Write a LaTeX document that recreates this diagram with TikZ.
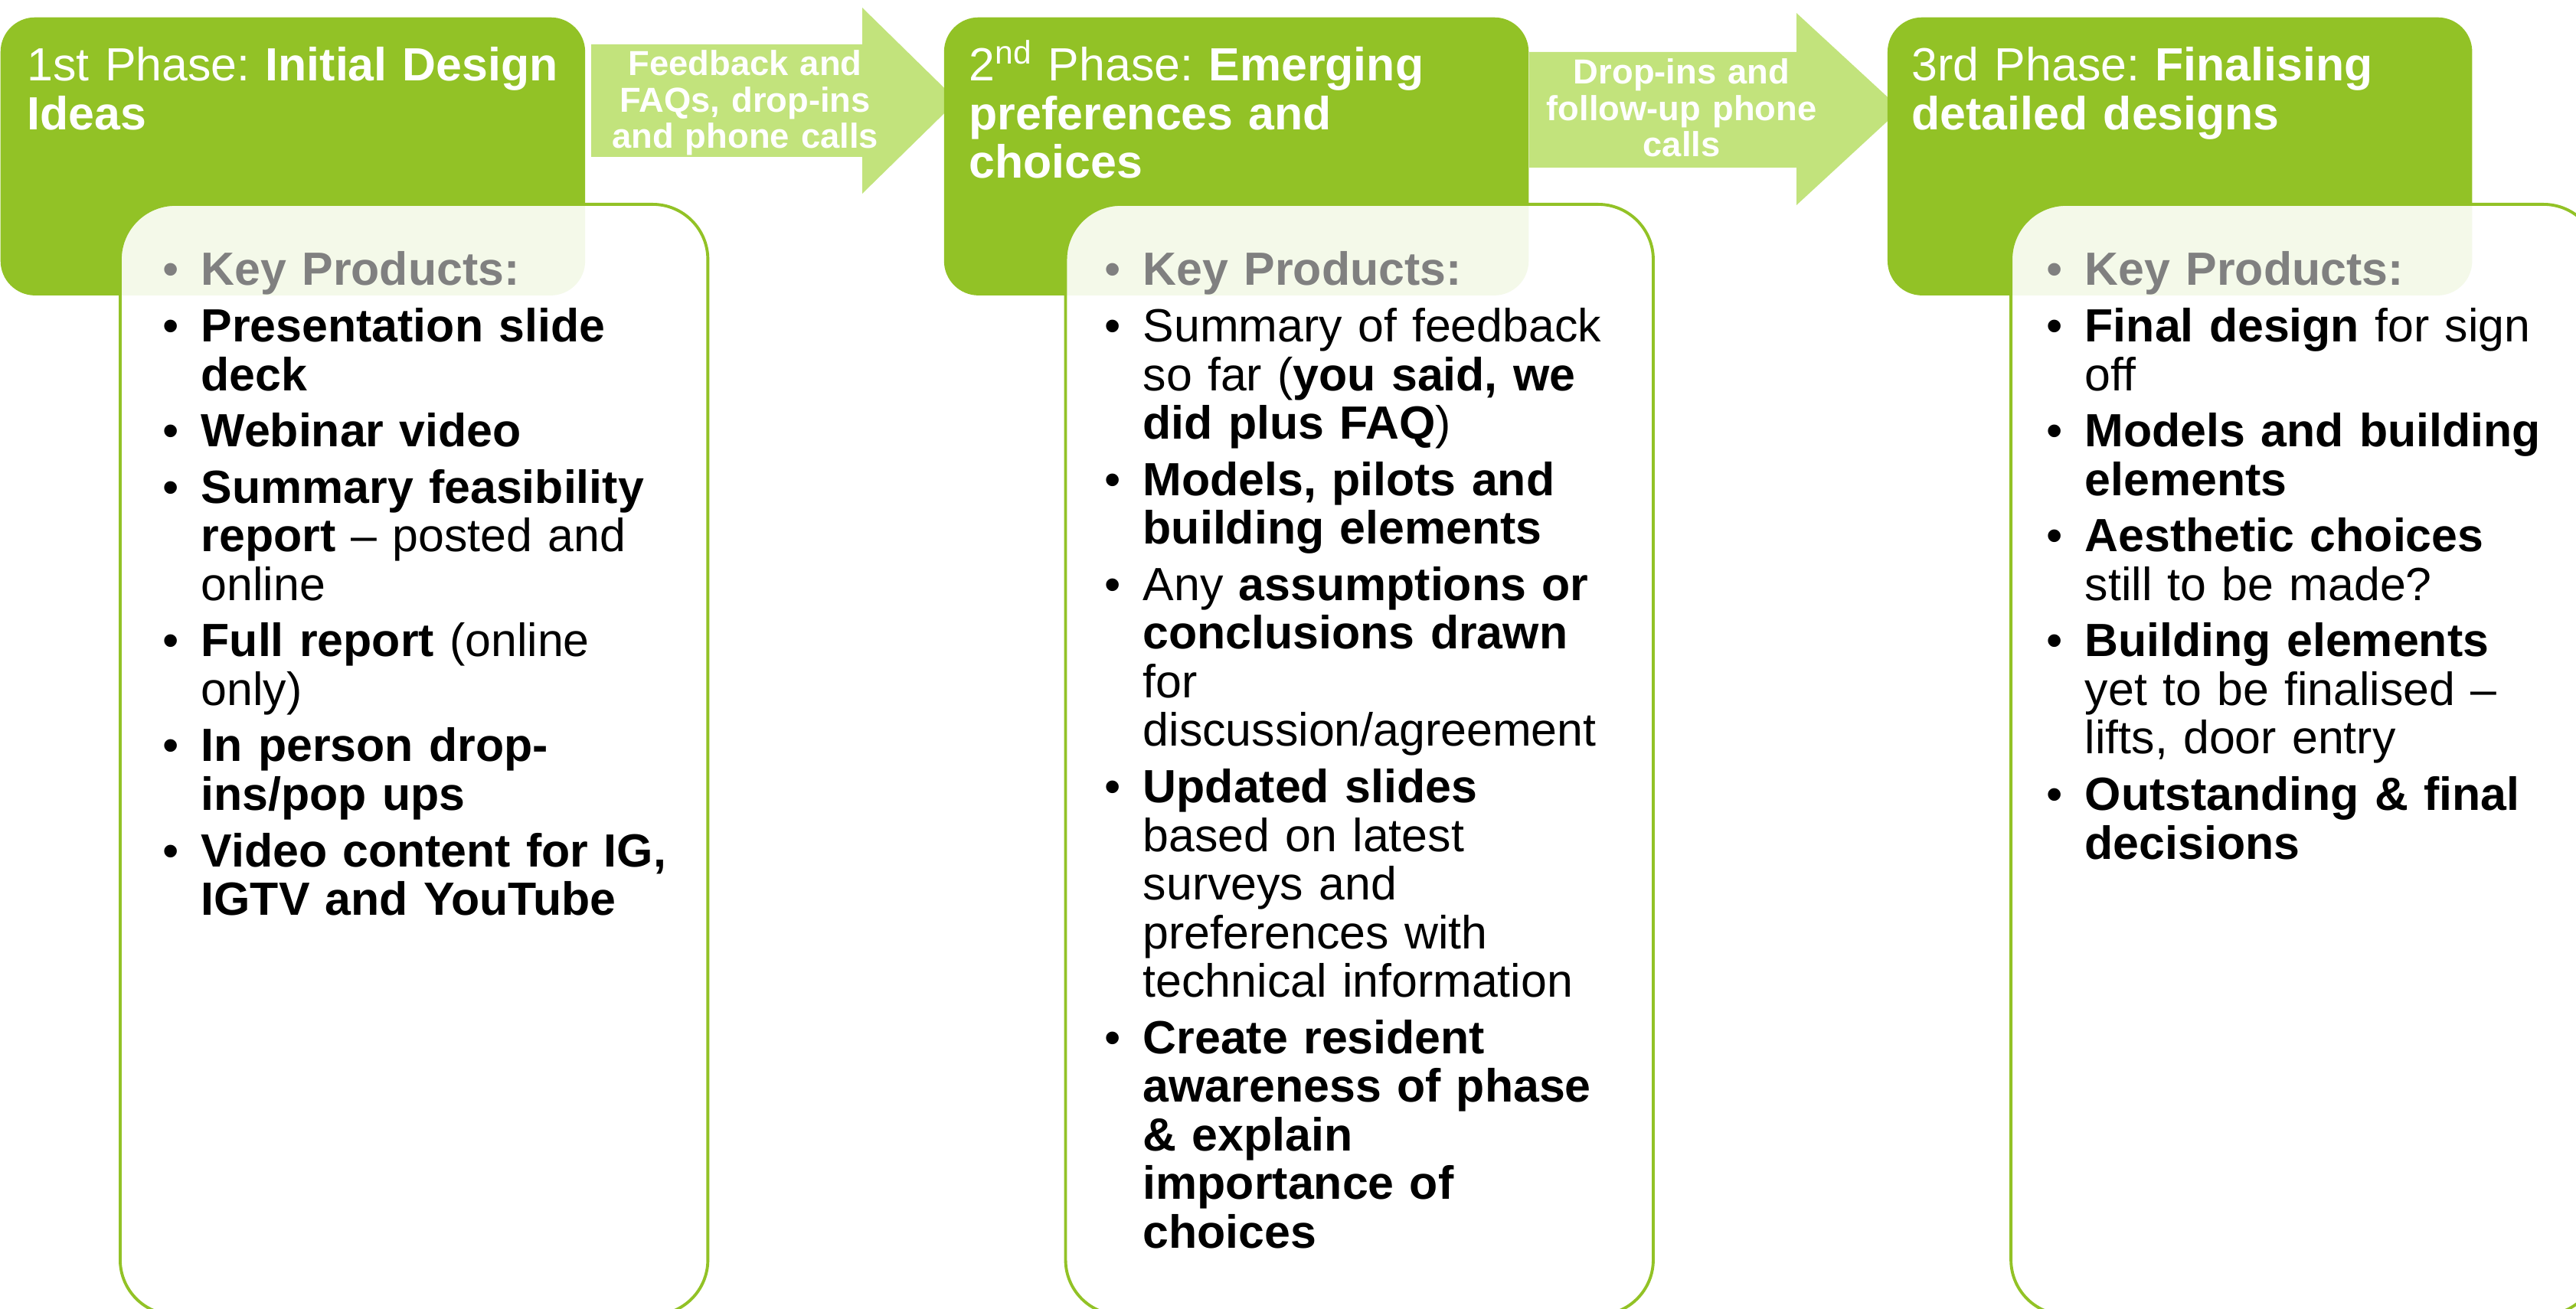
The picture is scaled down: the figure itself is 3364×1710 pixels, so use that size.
\documentclass[tikz,border=0pt]{standalone}
\usepackage{fontspec}
\setmainfont{Liberation Sans}
\usetikzlibrary{positioning}
\definecolor{colPhase}{RGB}{146,194,38}
\definecolor{colFlow}{RGB}{194,227,124}
\definecolor{colKey}{RGB}{128,128,128}

\frenchspacing

% fonts for the three kinds of text
\newcommand{\titlefont}{\fontsize{17.3pt}{17.93pt}\selectfont}
\newcommand{\kpfont}{\fontsize{17.3pt}{18.07pt}\selectfont}
\newcommand{\flowfont}{\fontsize{12.9pt}{13.37pt}\selectfont\bfseries}

% bullet list lines (\\ keeps the hanging indent)
\newcommand{\kphead}{\setlength{\parskip}{0.1cm}\noindent
  {\color{colKey}\makebox[0.5cm][l]{\textbullet}\textbf{Key Products:}}\par}
\newcommand{\kpitem}[1]{\hangindent=0.5cm\hangafter=1\noindent
  \makebox[0.5cm][l]{\textbullet}{\let\\\newline#1}\par}

\begin{document}
\begin{tikzpicture}[
  x=0.01cm, y=-0.01cm,
  phase/.style={rectangle, rounded corners=0.45cm, fill=colPhase, inner sep=0pt,
                minimum width=7.63cm, minimum height=3.63cm, anchor=north west},
  products/.style={rectangle, rounded corners=0.72cm, draw=colPhase, line width=1.1pt,
                   fill=white, fill opacity=0.9, inner sep=0pt,
                   minimum width=7.67cm, minimum height=14.5cm, anchor=north west},
  ptitle/.style={anchor=base west, inner sep=0pt, text width=9cm, align=left,
                 text=white, font=\titlefont},
  ptext/.style={anchor=base west, inner sep=0pt, text width=7cm, align=left,
                font=\kpfont},
  flow/.style={fill=colFlow},
  flowtext/.style={anchor=base, inner sep=0pt, text width=4cm, align=center,
                   text=white, font=\flowfont},
]

\useasboundingbox (0,0) rectangle (3364,1710);
\clip (0,0) rectangle (3364,1710);

% Block arrows between the phases (tips run under the next box)
\fill[flow] (772,58) -- (1126,58) -- (1126,10) -- (1250,131.5) -- (1126,253)
  -- (1126,205) -- (772,205) -- cycle;
\fill[flow] (1997,68) -- (2346,68) -- (2346,17) -- (2482,142.5) -- (2346,268)
  -- (2346,219) -- (1997,219) -- cycle;

% Phase headers
\node[phase] (phase1) at (0,22) {};
\node[phase, right=4.67cm of phase1] (phase2) {};
\node[phase, right=4.67cm of phase2] (phase3) {};

% Key product panels
\node[products] (prod1) at (155,265) {};
\node[products, right=4.63cm of prod1] (prod2) {};
\node[products, right=4.63cm of prod2] (prod3) {};

% Header texts
\node[ptitle] (title1) at (35,106)
  {1st Phase: \textbf{Initial Design}\\\textbf{Ideas}};
\node[ptitle] (title2) at (1265,106)
  {2\textsuperscript{nd} Phase: \textbf{Emerging}\\\textbf{preferences and}\\\textbf{choices}};
\node[ptitle] (title3) at (2496,106)
  {3rd Phase: \textbf{Finalising}\\\textbf{detailed designs}};

% Arrow texts
\node[flowtext] (flow1) at (973,99) {Feedback and\\FAQs, drop-ins\\and phone calls};
\node[flowtext] (flow2) at (2196,110) {Drop-ins and\\follow-up phone\\calls};

% Product lists
\node[ptext] (kp1) at (212,373) {\kphead
  \kpitem{\textbf{Presentation slide\\deck}}
  \kpitem{\textbf{Webinar video}}
  \kpitem{\textbf{Summary feasibility\\report} – posted and\\online}
  \kpitem{\textbf{Full report} (online\\only)}
  \kpitem{\textbf{In person drop-\\ins/pop ups}}
  \kpitem{\textbf{Video content for IG,\\IGTV and YouTube}}};
\node[ptext] (kp2) at (1442,373) {\kphead
  \kpitem{Summary of feedback\\so far (\textbf{you said, we\\did plus FAQ})}
  \kpitem{\textbf{Models, pilots and\\building elements}}
  \kpitem{Any \textbf{assumptions or\\conclusions drawn}\\for\\discussion/agreement}
  \kpitem{\textbf{Updated slides}\\based on latest\\surveys and\\preferences with\\technical information}
  \kpitem{\textbf{Create resident\\awareness of phase\\\& explain\\importance of\\choices}}};
\node[ptext] (kp3) at (2672,373) {\kphead
  \kpitem{\textbf{Final design} for sign\\off}
  \kpitem{\textbf{Models and building\\elements}}
  \kpitem{\textbf{Aesthetic choices}\\still to be made?}
  \kpitem{\textbf{Building elements}\\yet to be finalised –\\lifts, door entry}
  \kpitem{\textbf{Outstanding \& final\\decisions}}};

\end{tikzpicture}
\end{document}
